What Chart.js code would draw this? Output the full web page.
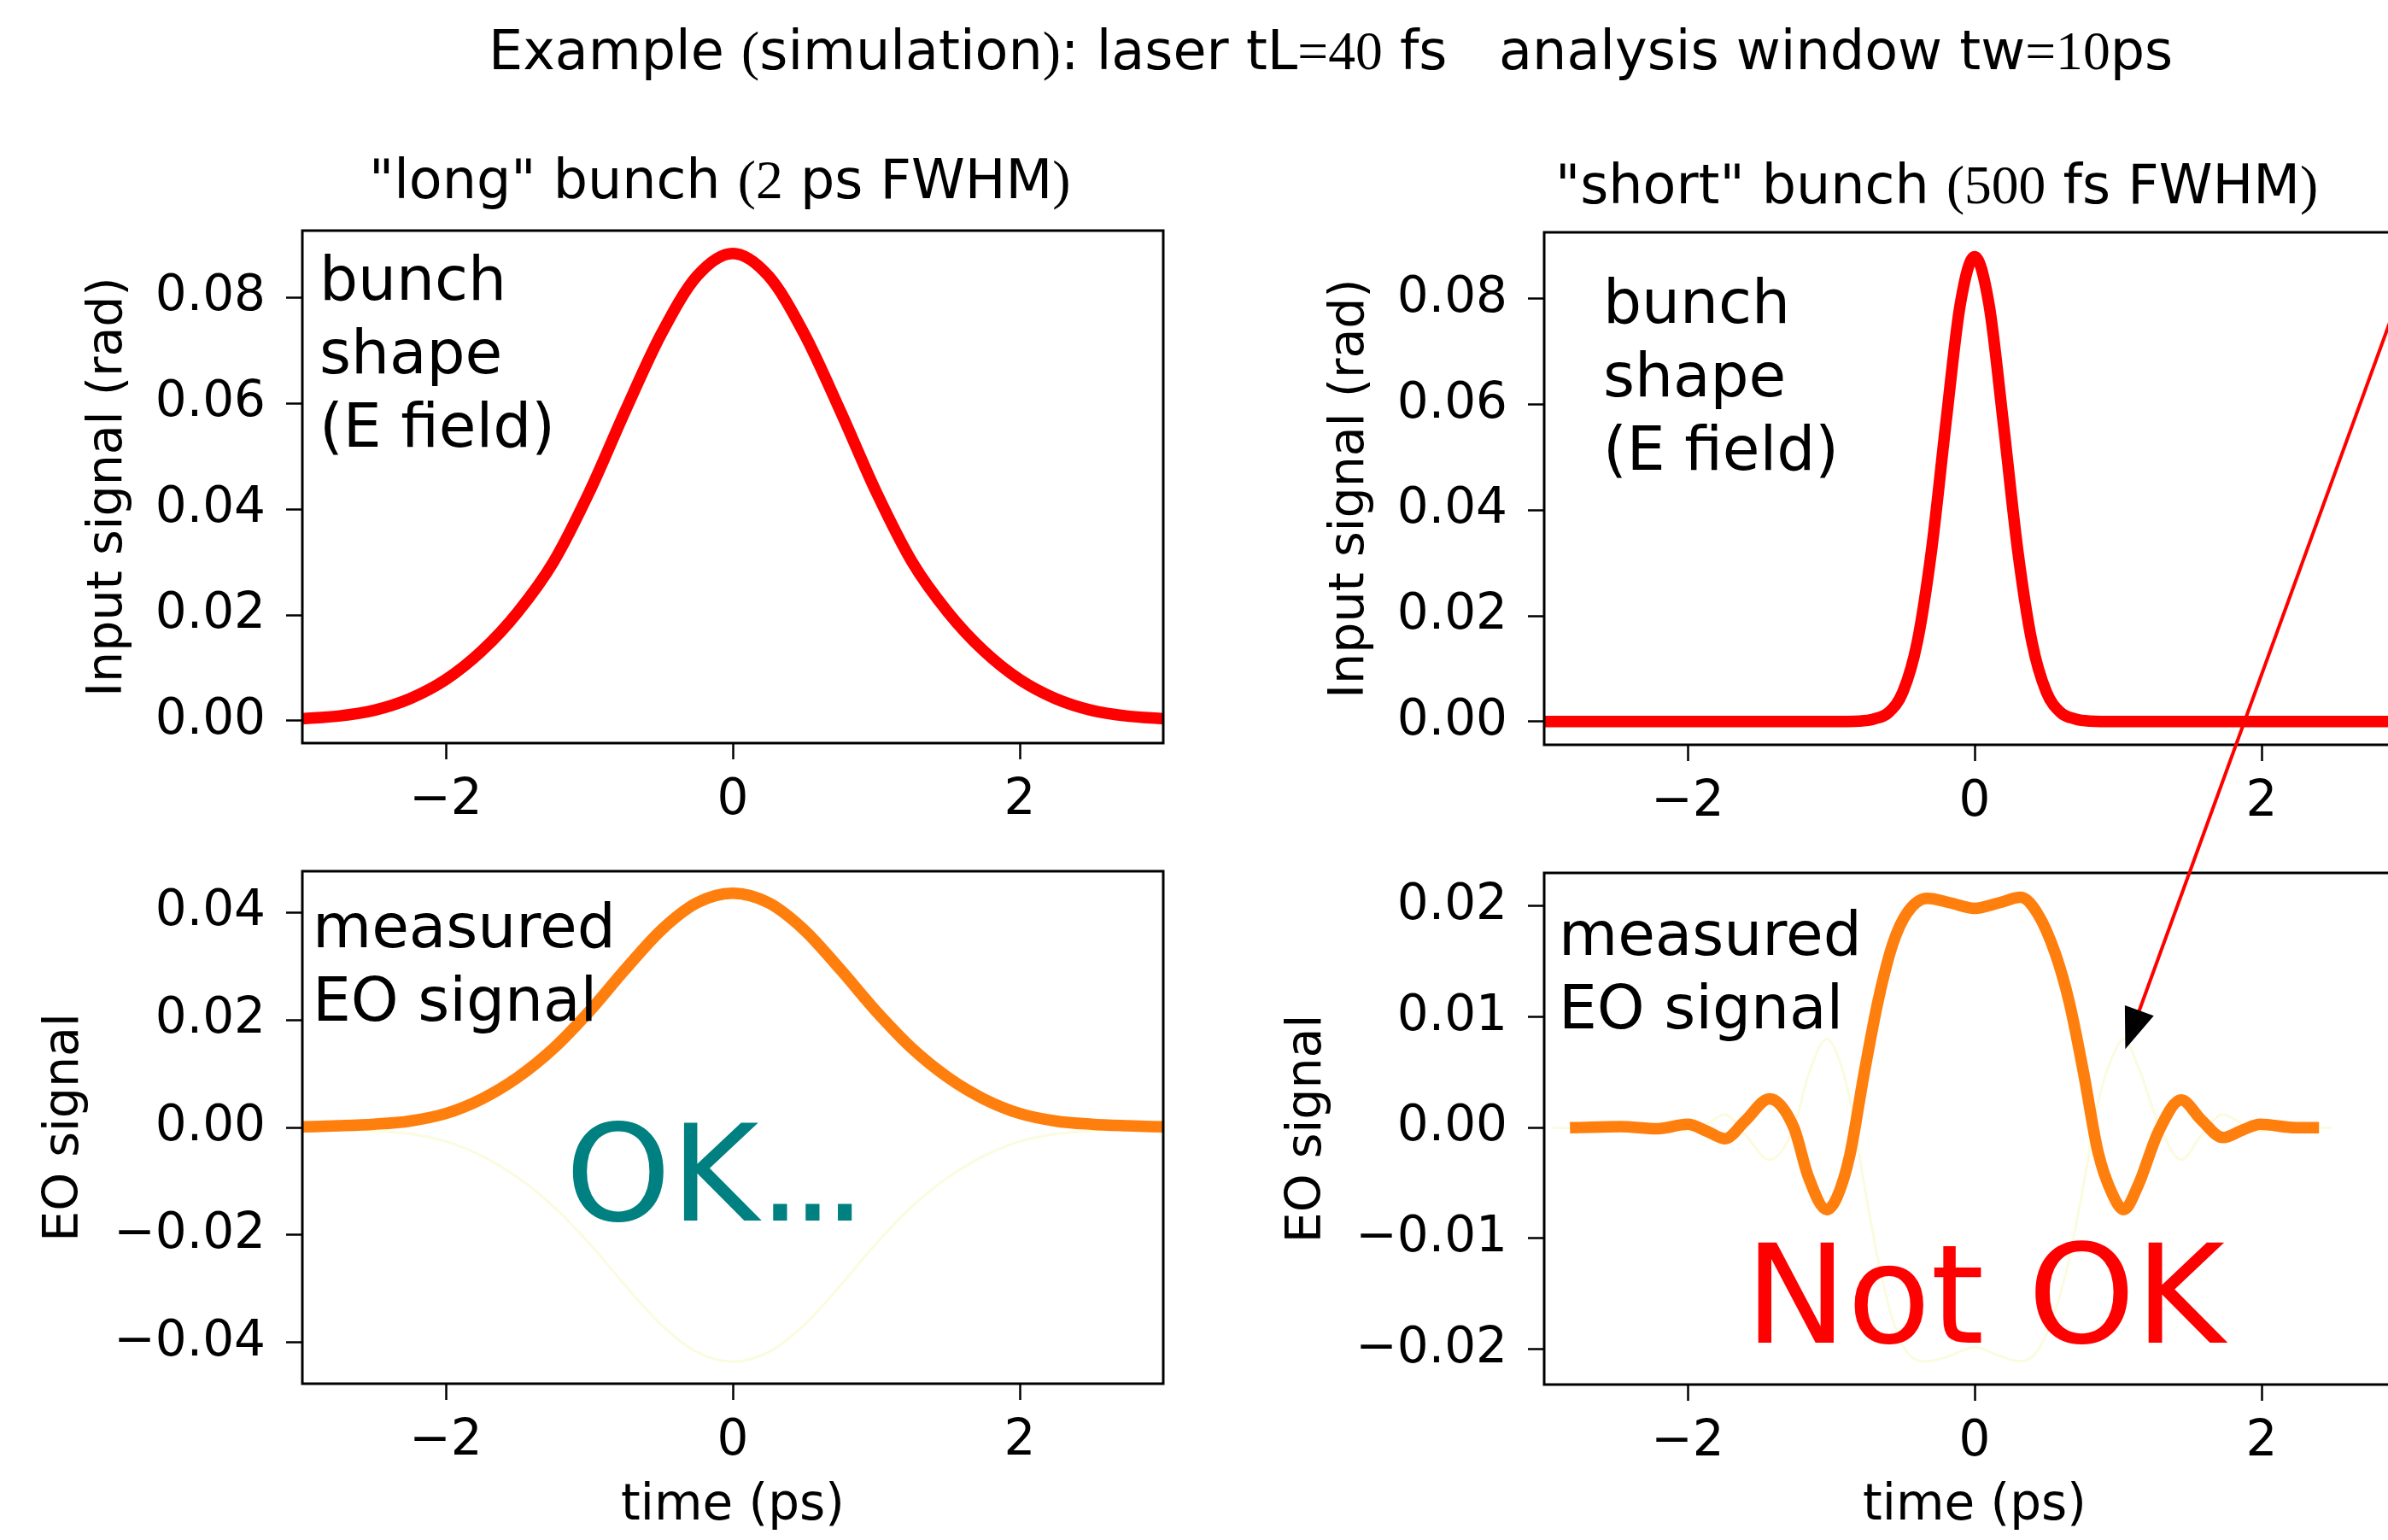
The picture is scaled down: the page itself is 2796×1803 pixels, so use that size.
<!DOCTYPE html>
<html>
<head>
<meta charset="utf-8">
<title>EO bunch example</title>
<script src="https://cdn.jsdelivr.net/npm/chart.js@4.4.1/dist/chart.umd.min.js"></script>
<style>
  html, body { margin: 0; padding: 0; background: #fff; overflow: hidden; }
  body { position: relative; width: 2796px; height: 1803px; }
  canvas { position: absolute; }
  .txt { position: absolute; white-space: pre; line-height: 1; font-family: 'DejaVu Sans'; color: #000; z-index: 4; }
  .serif { font-family: 'Liberation Serif'; }
  .tight { letter-spacing: -12px; }
</style>
</head>
<body>
<canvas id="topLeft" width="1400" height="720" style="left:0px; top:250px"></canvas>
<canvas id="topRight" width="1430" height="722" style="left:1420px; top:250px"></canvas>
<canvas id="botLeft" width="1400" height="803" style="left:0px; top:1000px"></canvas>
<canvas id="botRight" width="1430" height="803" style="left:1420px; top:1000px"></canvas>
<canvas id="arrow" width="2796" height="1803" style="left:0px; top:0px; z-index:5"></canvas>
<script>
// ---- data ----

// long bunch (2 ps FWHM)
const tLong = [-3, -2.75, -2.5, -2.25, -2, -1.75, -1.5, -1.25, -1, -0.75, -0.5, -0.25, 0,
               0.25, 0.5, 0.75, 1, 1.25, 1.5, 1.75, 2, 2.25, 2.5, 2.75, 3];
const bunchLong = [0.0004, 0.0009, 0.0020, 0.0042, 0.0078, 0.0132, 0.0205, 0.0300, 0.0432, 0.0585, 0.0730, 0.0840, 0.0883,
                   0.0840, 0.0730, 0.0585, 0.0432, 0.0300, 0.0205, 0.0132, 0.0078, 0.0042, 0.0020, 0.0009, 0.0004];
const eoLong = [0.0001, 0.0003, 0.0006, 0.0012, 0.0026, 0.0053, 0.0093, 0.0147, 0.0216, 0.0294, 0.0367, 0.0418, 0.0436,
                0.0418, 0.0367, 0.0294, 0.0216, 0.0147, 0.0093, 0.0053, 0.0026, 0.0012, 0.0006, 0.0003, 0.0001];
const eoLongRef = [-0.0001, -0.0003, -0.0006, -0.0012, -0.0026, -0.0053, -0.0093, -0.0147, -0.0216, -0.0294, -0.0367, -0.0418, -0.0436,
                   -0.0418, -0.0367, -0.0294, -0.0216, -0.0147, -0.0093, -0.0053, -0.0026, -0.0012, -0.0006, -0.0003, -0.0001];

// short bunch (500 fs FWHM)
const tShort = [-3, -2, -1, -0.8, -0.7, -0.6, -0.5, -0.4, -0.3, -0.2, -0.1, 0,
                0.1, 0.2, 0.3, 0.4, 0.5, 0.6, 0.7, 0.8, 1, 2, 3];
const bunchShort = [0, 0, 0, 0.0001, 0.0005, 0.0017, 0.0056, 0.0150, 0.0325, 0.0565, 0.0790, 0.0880,
                    0.0790, 0.0565, 0.0325, 0.0150, 0.0056, 0.0017, 0.0005, 0.0001, 0, 0, 0];

// measured EO signal for the short bunch (orange)
const tEoShort = [-2.78, -2.47, -2.21, -2.00, -1.87, -1.74, -1.60, -1.43, -1.26, -1.16, -1.03, -0.96, -0.87,
                  -0.77, -0.67, -0.57, -0.47, -0.33, -0.17, 0, 0.17, 0.32, 0.44, 0.56, 0.66, 0.76, 0.86,
                  0.96, 1.04, 1.14, 1.28, 1.44, 1.58, 1.73, 1.87, 1.99, 2.24, 2.36];
const eoShort = [0, 0.0001, -0.0001, 0.0003, -0.0003, -0.0010, 0.0006, 0.0026, 0.0000, -0.0044, -0.0074, -0.0063, -0.0025,
                 0.0049, 0.0116, 0.0166, 0.0194, 0.0207, 0.0203, 0.0198, 0.0203, 0.0208, 0.0193, 0.0158, 0.0113, 0.0049, -0.0022,
                 -0.0060, -0.0074, -0.0052, -0.0004, 0.0025, 0.0007, -0.0009, -0.0002, 0.0003, 0, 0];

// faint reference trace under it
const tEoShortRef = [-2.94, -2.47, -2.21, -2.00, -1.87, -1.74, -1.60, -1.43, -1.26, -1.16, -1.03, -0.96, -0.87,
                     -0.77, -0.67, -0.57, -0.47, -0.33, -0.17, 0, 0.17, 0.32, 0.44, 0.56, 0.66, 0.76, 0.86,
                     0.96, 1.04, 1.14, 1.28, 1.44, 1.58, 1.73, 1.87, 1.99, 2.24, 2.49];
const eoShortRef = [0, -0.0001, 0.0001, -0.0003, 0.0003, 0.0012, -0.0006, -0.0029, 0.0000, 0.0047, 0.0080, 0.0067, 0.0026,
                    -0.0051, -0.0121, -0.0174, -0.0203, -0.0211, -0.0206, -0.0198, -0.0206, -0.0211, -0.0201, -0.0166, -0.0118, -0.0051, 0.0023,
                    0.0064, 0.0080, 0.0055, 0.0004, -0.0029, -0.0007, 0.0012, 0.0003, -0.0003, 0, 0];

// tick labels
const xTicks = [-2, 0, 2];
const yTicksInput = [0, 0.02, 0.04, 0.06, 0.08];
const yTicksEoLong = [-0.04, -0.02, 0, 0.02, 0.04];
const yTicksEoShort = [-0.02, -0.01, 0, 0.01, 0.02];

// where the annotation arrow points (bottom right panel, data coords)
const arrowTip = [1.05, 0.0071];

// ---- drawing ----
Chart.defaults.font.family = "'DejaVu Sans'";
Chart.defaults.font.size = 58;
Chart.defaults.color = '#000';

function fmt(v, digits) {
  const s = Math.abs(v).toFixed(digits);
  return v < -1e-9 ? '\u2212' + s : s;
}

function pts(xs, ys) {
  return xs.map((x, i) => ({ x: x, y: ys[i] }));
}

// full box round the axes, like the matplotlib spines
const frame = {
  id: 'frame',
  afterDraw(chart) {
    const { ctx, chartArea: a } = chart;
    ctx.save();
    ctx.strokeStyle = '#000';
    ctx.lineWidth = 3;
    ctx.strokeRect(a.left, a.top, a.right - a.left, a.bottom - a.top);
    ctx.restore();
  }
};

const tickGrid = {
  display: true, drawOnChartArea: false, drawTicks: true,
  tickLength: 19, tickWidth: 2.5, tickColor: '#000', color: '#000'
};

function thick(data, color) {
  return { data: data, borderColor: color, borderWidth: 13.5, pointRadius: 0,
           cubicInterpolationMode: 'monotone', borderCapStyle: 'square', borderJoinStyle: 'round' };
}
function faint(data) {
  return { data: data, borderColor: '#fbfbe0', borderWidth: 3, pointRadius: 0,
           cubicInterpolationMode: 'monotone' };
}

function makePanel(id, cfg) {
  return new Chart(document.getElementById(id), {
    type: 'line',
    data: { datasets: cfg.datasets },
    options: {
      responsive: false,
      animation: false,
      devicePixelRatio: 1,
      layout: { padding: cfg.padding },
      plugins: { legend: { display: false }, tooltip: { enabled: false } },
      scales: {
        x: {
          type: 'linear', min: -3, max: 3,
          afterBuildTicks: s => { s.ticks = xTicks.map(v => ({ value: v })); },
          afterFit: s => { s.height = cfg.xHeight; s.paddingLeft = 0; s.paddingRight = 0; },
          ticks: { padding: 14, autoSkip: false, maxRotation: 0, callback: v => fmt(v, 0) },
          grid: tickGrid,
          border: { display: false },
          title: cfg.xTitle
            ? { display: true, text: cfg.xTitle, font: { size: 58 }, padding: { top: 0, bottom: 4 } }
            : { display: false }
        },
        y: {
          type: 'linear', min: cfg.yMin, max: cfg.yMax,
          afterBuildTicks: s => { s.ticks = cfg.yTicks.map(v => ({ value: v })); },
          afterFit: s => { s.width = cfg.yWidth; s.paddingTop = 0; s.paddingBottom = 0; },
          ticks: { padding: 24, autoSkip: false, callback: v => fmt(v, 2) },
          grid: tickGrid,
          border: { display: false },
          title: { display: true, text: cfg.yTitle, font: { size: 57 }, padding: { top: cfg.yTitlePad, bottom: 0 } }
        }
      }
    },
    plugins: [frame]
  });
}

makePanel('topLeft', {
  datasets: [thick(pts(tLong, bunchLong), '#ff0000')],
  padding: { left: 0, top: 20, right: 38, bottom: 0 },
  yWidth: 354, xHeight: 100, yTitlePad: 93,
  yMin: -0.0042, yMax: 0.0926, yTicks: yTicksInput,
  yTitle: 'Input signal (rad)'
});

makePanel('topRight', {
  datasets: [thick(pts(tShort, bunchShort), '#ff0000')],
  padding: { left: 0, top: 22, right: 34, bottom: 0 },
  yWidth: 388, xHeight: 100, yTitlePad: 127,
  yMin: -0.0044, yMax: 0.0926, yTicks: yTicksInput,
  yTitle: 'Input signal (rad)'
});

makePanel('botLeft', {
  datasets: [thick(pts(tLong, eoLong), '#ff7f0e'), faint(pts(tLong, eoLongRef))],
  padding: { left: 0, top: 20, right: 38, bottom: 0 },
  yWidth: 354, xHeight: 183, yTitlePad: 42,
  yMin: -0.0477, yMax: 0.0477, yTicks: yTicksEoLong,
  yTitle: 'EO signal', xTitle: 'time (ps)'
});

const botRight = makePanel('botRight', {
  datasets: [thick(pts(tEoShort, eoShort), '#ff7f0e'), faint(pts(tEoShortRef, eoShortRef))],
  padding: { left: 0, top: 22, right: 34, bottom: 0 },
  yWidth: 388, xHeight: 182, yTitlePad: 77,
  yMin: -0.0232, yMax: 0.0230, yTicks: yTicksEoShort,
  yTitle: 'EO signal', xTitle: 'time (ps)'
});

// ---- text on top of the panels ----
function putText(parts, left, baseline, size, color) {
  const d = document.createElement('div');
  d.className = 'txt';
  d.style.left = left + 'px';
  d.style.top = (baseline - 0.846 * size) + 'px';
  d.style.fontSize = size + 'px';
  d.style.color = color || '#000';
  parts.forEach(p => {
    const s = document.createElement('span');
    s.textContent = p[0];
    if (p[1]) s.className = p[1] === 2 ? 'tight' : 'serif';
    d.appendChild(s);
  });
  document.body.appendChild(d);
}

putText([['Example '], ['(', 1], ['simulation'], [')', 1], [': laser tL'], ['=40', 1],
         [' fs   analysis window tw'], ['=10', 1], ['ps']], 572, 82, 63.6);
putText([['"long" bunch '], ['(2', 1], [' ps FWHM'], [')', 1]], 432, 233, 63.5);
putText([['"short" bunch '], ['(500', 1], [' fs FWHM'], [')', 1]], 1821, 239, 63.5);

putText([['bunch']], 374, 351, 71);
putText([['shape']], 374, 437, 71);
putText([['(E field)']], 374, 523, 71);
putText([['bunch']], 1877, 378, 71);
putText([['shape']], 1877, 464, 71);
putText([['(E field)']], 1877, 550, 71);

putText([['measured']], 366, 1109, 71);
putText([['EO signal']], 366, 1195, 71);
putText([['measured']], 1825, 1118, 71);
putText([['EO signal']], 1825, 1204, 71);

putText([['OK'], ['...', 2]], 662, 1429, 157, '#008080');
putText([['Not OK']], 2043, 1572, 160, '#ff0000');

// ---- arrow: red shaft from off the right edge, black head on the faint trace ----
(function drawArrow() {
  const ctx = document.getElementById('arrow').getContext('2d');
  const tipX = 1420 + botRight.scales.x.getPixelForValue(arrowTip[0]);
  const tipY = 1000 + botRight.scales.y.getPixelForValue(arrowTip[1]);
  const len = Math.hypot(0.364, 1);
  const ux = 0.364 / len, uy = -1 / len;   // from tip back toward the tail
  const headLen = 48, headHalf = 18;
  const bx = tipX + ux * headLen, by = tipY + uy * headLen;
  ctx.strokeStyle = '#ff0000';
  ctx.lineWidth = 4;
  ctx.beginPath();
  ctx.moveTo(tipX + ux * (headLen - 4), tipY + uy * (headLen - 4));
  ctx.lineTo(tipX + ux * 1500, tipY + uy * 1500);
  ctx.stroke();
  ctx.fillStyle = '#000';
  ctx.beginPath();
  ctx.moveTo(tipX, tipY);
  ctx.lineTo(bx - uy * headHalf, by + ux * headHalf);
  ctx.lineTo(bx + uy * headHalf, by - ux * headHalf);
  ctx.closePath();
  ctx.fill();
})();
</script>
</body>
</html>
